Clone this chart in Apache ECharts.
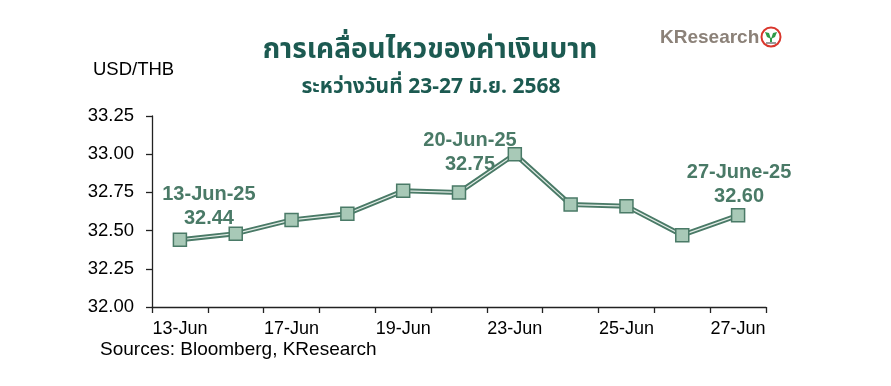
<!DOCTYPE html>
<html>
<head>
<meta charset="utf-8">
<script src="https://cdn.jsdelivr.net/npm/echarts@6/dist/echarts.min.js"></script>
<style>
html,body{margin:0;padding:0;background:#fff;}
#c{width:891px;height:386px;}
</style>
</head>
<body>
<div id="c"></div>
<script>
// ---- data ----
var categories = ['13-Jun','16-Jun','17-Jun','18-Jun','19-Jun','20-Jun','23-Jun','24-Jun','25-Jun','26-Jun','27-Jun'];
var usdThb = [32.44, 32.48, 32.57, 32.61, 32.76, 32.75, 33.00, 32.67, 32.66, 32.47, 32.60];
var yTicks = {min: 32.00, max: 33.25, step: 0.25};
var annotationIndex = [0, 5, 10];
var annotationText = ['13-Jun-25\n32.44', '20-Jun-25\n32.75', '27-June-25\n32.60'];
var titleText = 'การเคลื่อนไหวของค่าเงินบาท';
var subtitleText = 'ระหว่างวันที่ 23-27 มิ.ย. 2568';
var unitText = 'USD/THB';
var sourceText = 'Sources: Bloomberg, KResearch';

// ---- styles ----
var FONT = '"Liberation Sans", Arial, sans-serif';
var THAI = '"Noto Sans Thai", "Noto Sans Thai UI", Tahoma, "Liberation Sans", sans-serif';
var DARK = '#4a7a67';
var annOffsets = [[29, -33], [11, -40], [1, -31]];

var markerData = usdThb.map(function (v, i) {
  var k = annotationIndex.indexOf(i);
  if (k < 0) return v;
  return {
    value: v,
    label: {
      show: true, position: 'inside', offset: annOffsets[k],
      formatter: annotationText[k], align: 'center', verticalAlign: 'middle',
      fontFamily: FONT, fontWeight: 'bold', fontSize: 20, lineHeight: 24, color: DARK
    }
  };
});

var chart = echarts.init(document.getElementById('c'), null, {renderer: 'canvas'});
chart.setOption({
  animation: false,
  backgroundColor: '#fff',
  grid: {left: 152, right: 125, top: 116, bottom: 79, containLabel: false},
  graphic: [
    {type: 'text', x: 430, y: 52, style: {text: titleText, fill: '#1c5a51', font: 'bold 28px ' + THAI, align: 'center', verticalAlign: 'middle'}},
    {type: 'text', x: 431, y: 89, style: {text: subtitleText, fill: '#1c5a51', font: 'bold 21px ' + THAI, align: 'center', verticalAlign: 'middle'}},
    {type: 'text', x: 93, y: 70, style: {text: unitText, fill: '#000', font: '18.5px ' + FONT, align: 'left', verticalAlign: 'middle'}},
    {type: 'text', x: 100, y: 350, style: {text: sourceText, fill: '#000', font: '19px ' + FONT, align: 'left', verticalAlign: 'middle'}},
    {type: 'text', x: 660, y: 38, style: {text: 'KResearch', fill: '#8b8178', font: 'bold 19px ' + FONT, align: 'left', verticalAlign: 'middle'}},
    {type: 'circle', shape: {cx: 771, cy: 37, r: 9.5}, style: {fill: '#fff', stroke: '#d9362c', lineWidth: 2}},
    {type: 'polygon', shape: {points: [[771, 39], [767, 37], [765, 32], [769, 33]]}, style: {fill: '#2f9a48'}},
    {type: 'polygon', shape: {points: [[771, 39], [775, 37], [777, 32], [773, 33]]}, style: {fill: '#2f9a48'}},
    {type: 'line', shape: {x1: 771, y1: 38, x2: 771, y2: 42}, style: {stroke: '#2f9a48', lineWidth: 2}},
    {type: 'rect', shape: {x: 766, y: 42, width: 10, height: 2}, style: {fill: '#9a9a9a'}}
  ],
  xAxis: {
    type: 'category', data: categories, boundaryGap: true,
    axisLine: {show: true, lineStyle: {color: '#222', width: 1.3}},
    axisTick: {show: true, interval: 0, length: 6, lineStyle: {color: '#222', width: 1.3}},
    axisLabel: {interval: 1, margin: 13, fontFamily: FONT, fontSize: 18, color: '#000'},
    splitLine: {show: false}
  },
  yAxis: {
    type: 'value', min: yTicks.min, max: yTicks.max, interval: yTicks.step,
    axisLine: {show: true, lineStyle: {color: '#222', width: 1.3}},
    axisTick: {show: true, length: 6, lineStyle: {color: '#222', width: 1.3}},
    axisLabel: {margin: 18, fontFamily: FONT, fontSize: 18.5, color: '#000', formatter: function (v) { return v.toFixed(2); }},
    splitLine: {show: false}
  },
  series: [
    {type: 'line', data: usdThb, symbol: 'none', z: 2, lineStyle: {color: DARK, width: 5}},
    {type: 'line', data: usdThb, symbol: 'none', z: 3, lineStyle: {color: '#e2ece6', width: 1.2}},
    {type: 'line', data: markerData, z: 4, symbol: 'rect', symbolSize: 13,
     itemStyle: {color: '#a8c9b7', borderColor: DARK, borderWidth: 1.5},
     lineStyle: {opacity: 0}, label: {show: false}}
  ]
});
</script>
</body>
</html>
